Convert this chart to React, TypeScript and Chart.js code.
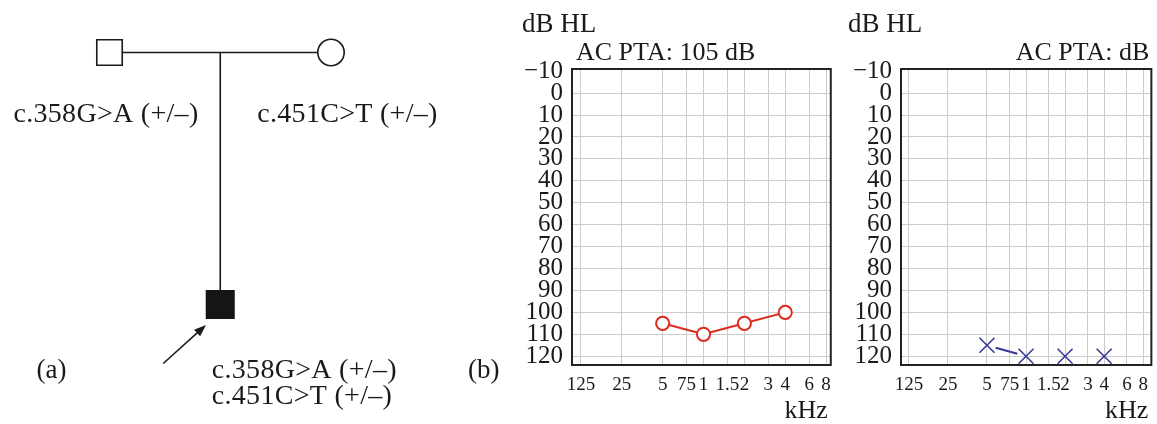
import React, { useEffect, useRef } from "react";
import { Chart, registerables } from "chart.js";

Chart.register(...registerables);

const SERIF = '"Liberation Serif", "Times New Roman", Times, serif';
const INK = "#1a1a1a";
const GRID = "#cccccc";
const RED = "#e0291e";
const BLUE = "#38389a";

// ---------------- Audiogram data ----------------
const frequenciesKHz = [0.125, 0.25, 0.5, 0.75, 1, 1.5, 2, 3, 4, 6, 8];
const frequencyTickLabels = ["125", "25", "5", "75", "1", "1.5", "2", "3", "4", "6", "8"];
const hearingLevelTicks = [-10, 0, 10, 20, 30, 40, 50, 60, 70, 80, 90, 100, 110, 120];

const rightEarFrequencies = [0.5, 1, 2, 4];
const rightEarThresholds = [105, 110, 105, 100];
const rightEarPTA = "105";

const leftEarFrequencies = [0.5, 1, 2, 4];
const leftEarThresholds = [115, 120, 120, 120];
const leftEarLinks = [[0, 1]];
const leftEarPTA = "";

// ---------------- Pedigree data ----------------
const memberIds = ["father", "mother", "proband"];
const memberPosition = [0, 1, 0.5];
const memberGeneration = [1, 1, 2];
const memberShape = ["rect", "circle", "rect"];
const memberAffected = [false, false, true];
const memberGenotype = [
  ["c.358G>A (+/\u2013)"],
  ["c.451C>T (+/\u2013)"],
  ["c.358G>A (+/\u2013)", "c.451C>T (+/\u2013)"],
];
const matingPair = [0, 1];
const offspring = [2];

// label placement (style)
const labelAlign: CanvasTextAlign[] = ["center", "center", "left"];
const labelDx = [-3.5, 16.5, -8.5];
const labelDy = [69.5, 69.5, 74];
const labelLineGap = 25.7;

function pedigreeDecor() {
  return {
    id: "pedigreeDecor",
    afterDatasetsDraw(chart: any) {
      const { ctx } = chart;
      const xs = chart.scales.x;
      const ys = chart.scales.y;
      ctx.save();
      ctx.fillStyle = INK;
      ctx.textBaseline = "alphabetic";
      ctx.font = `28px ${SERIF}`;
      (ctx as any).letterSpacing = "0.3px";
      memberIds.forEach((_, i) => {
        const px = xs.getPixelForValue(memberPosition[i]);
        const py = ys.getPixelForValue(memberGeneration[i]);
        ctx.textAlign = labelAlign[i];
        memberGenotype[i].forEach((t, k) => {
          ctx.fillText(t, px + labelDx[i], py + labelDy[i] + k * labelLineGap);
        });
      });
      (ctx as any).letterSpacing = "0px";

      // proband arrow
      const p = memberAffected.indexOf(true);
      if (p >= 0) {
        const px = xs.getPixelForValue(memberPosition[p]);
        const py = ys.getPixelForValue(memberGeneration[p]);
        const tx = px - 57, ty = py + 59;
        const hx = px - 14.25, hy = py + 20.5;
        const ang = Math.atan2(hy - ty, hx - tx);
        const len = 12, half = 4.5;
        const bx = hx - Math.cos(ang) * len, by = hy - Math.sin(ang) * len;
        ctx.strokeStyle = INK;
        ctx.lineWidth = 1.6;
        ctx.beginPath();
        ctx.moveTo(tx, ty);
        ctx.lineTo(bx + Math.cos(ang) * 2, by + Math.sin(ang) * 2);
        ctx.stroke();
        ctx.beginPath();
        ctx.moveTo(hx, hy);
        ctx.lineTo(bx - Math.sin(ang) * half, by + Math.cos(ang) * half);
        ctx.lineTo(bx + Math.sin(ang) * half, by - Math.cos(ang) * half);
        ctx.closePath();
        ctx.fill();
      }

      ctx.font = `27px ${SERIF}`;
      ctx.textAlign = "left";
      ctx.fillText("(a)", 36.5, 378.3);
      ctx.fillText("(b)", 468, 377.5);
      ctx.restore();
    },
  };
}

type AudioOpts = {
  freqs: number[];
  values: number[];
  kind: "circle" | "cross";
  links?: number[][];
  pta: string;
  ptaAlign: "left" | "right";
  xMin: number;
  xMax: number;
  yAxisWidth: number;
  padRight: number;
  hlOffset: number;
};

function audiogramDecor(o: AudioOpts) {
  return {
    id: "audiogramDecor",
    beforeDatasetsDraw(chart: any) {
      if (!o.links) return;
      const { ctx } = chart;
      const xs = chart.scales.x;
      const ys = chart.scales.y;
      ctx.save();
      ctx.strokeStyle = BLUE;
      ctx.lineWidth = 2;
      o.links.forEach(([a, b]) => {
        const x0 = xs.getPixelForValue(o.freqs[a]);
        const y0 = ys.getPixelForValue(o.values[a]);
        const x1 = xs.getPixelForValue(o.freqs[b]);
        const y1 = ys.getPixelForValue(o.values[b]);
        const d = Math.hypot(x1 - x0, y1 - y0);
        const ux = (x1 - x0) / d, uy = (y1 - y0) / d;
        const g = 9;
        ctx.beginPath();
        ctx.moveTo(x0 + ux * g, y0 + uy * g);
        ctx.lineTo(x1 - ux * g, y1 - uy * g);
        ctx.stroke();
      });
      ctx.restore();
    },
    afterDraw(chart: any) {
      const { ctx, chartArea: a } = chart;
      ctx.save();
      ctx.strokeStyle = "#222";
      ctx.lineWidth = 2;
      ctx.strokeRect(a.left, a.top, a.right - a.left, a.bottom - a.top);
      ctx.fillStyle = INK;
      ctx.textBaseline = "alphabetic";
      ctx.font = `27px ${SERIF}`;
      ctx.textAlign = "left";
      ctx.fillText("dB HL", a.left - o.hlOffset, 31.7);
      ctx.font = `26px ${SERIF}`;
      const pta = o.pta ? `AC PTA: ${o.pta} dB` : "AC PTA: dB";
      if (o.ptaAlign === "left") {
        ctx.textAlign = "left";
        ctx.fillText(pta, a.left + 4, 60);
      } else {
        ctx.textAlign = "right";
        ctx.fillText(pta, a.right - 2, 60);
      }
      ctx.textAlign = "right";
      ctx.font = `26px ${SERIF}`;
      ctx.fillText("kHz", a.right - 3, 418);
      ctx.restore();
    },
  };
}

function makeAudiogram(canvas: HTMLCanvasElement, o: AudioOpts) {
  const data = o.freqs.map((f, i) => ({ x: f, y: o.values[i] }));
  const dataset: any =
    o.kind === "circle"
      ? {
          data,
          showLine: true,
          borderColor: RED,
          borderWidth: 2,
          pointStyle: "circle",
          pointRadius: 6.6,
          pointBorderWidth: 2,
          pointBorderColor: RED,
          pointBackgroundColor: "#ffffff",
          clip: false,
        }
      : {
          data,
          showLine: false,
          borderColor: BLUE,
          pointStyle: "crossRot",
          pointRadius: 10.6,
          pointBorderWidth: 1.6,
          pointBorderColor: BLUE,
          clip: false,
        };
  return new Chart(canvas, {
    type: "scatter",
    data: { datasets: [dataset] },
    options: {
      responsive: false,
      animation: false,
      devicePixelRatio: 1,
      layout: { autoPadding: false, padding: { top: 69, right: o.padRight, left: 0, bottom: 0 } },
      plugins: { legend: { display: false }, tooltip: { enabled: false }, title: { display: false } },
      events: [],
      scales: {
        x: {
          type: "logarithmic",
          min: o.xMin,
          max: o.xMax,
          bounds: "data",
          afterBuildTicks: (s: any) => {
            s.ticks = frequenciesKHz.map((v) => ({ value: v }));
          },
          afterFit: (s: any) => {
            s.height = 59;
          },
          ticks: {
            autoSkip: false,
            maxRotation: 0,
            minRotation: 0,
            padding: 9,
            color: INK,
            font: { family: SERIF, size: 19 },
            callback: (_v: any, i: number) => frequencyTickLabels[i],
          },
          grid: { color: GRID, lineWidth: 1, drawTicks: false },
          border: { display: false },
        },
        y: {
          type: "linear",
          reverse: true,
          min: -11,
          max: 124,
          bounds: "data",
          afterBuildTicks: (s: any) => {
            s.ticks = hearingLevelTicks.map((v) => ({ value: v }));
          },
          afterFit: (s: any) => {
            s.width = o.yAxisWidth;
          },
          ticks: {
            autoSkip: false,
            padding: 9,
            color: INK,
            font: { family: SERIF, size: 25 },
            callback: (v: any) => (v < 0 ? "\u2212" + Math.abs(v) : String(v)),
          },
          grid: {
            color: (c: any) => (c.tick && c.tick.value === -10 ? "rgba(0,0,0,0)" : GRID),
            lineWidth: 1,
            drawTicks: false,
          },
          border: { display: false },
        },
      },
    } as any,
    plugins: [audiogramDecor(o)],
  });
}

function makePedigree(canvas: HTMLCanvasElement) {
  const parentMid =
    (memberPosition[matingPair[0]] + memberPosition[matingPair[1]]) / 2;
  const parentGen = memberGeneration[matingPair[0]];
  const lineStyle = {
    showLine: true,
    borderColor: INK,
    borderWidth: 1.6,
    pointRadius: 0,
    order: 2,
  };
  return new Chart(canvas, {
    type: "scatter",
    data: {
      datasets: [
        {
          ...lineStyle,
          data: matingPair.map((i) => ({ x: memberPosition[i], y: memberGeneration[i] })),
        },
        ...offspring.map((c) => ({
          ...lineStyle,
          data: [
            { x: parentMid, y: parentGen },
            { x: memberPosition[c], y: memberGeneration[c] },
          ],
        })),
        {
          data: memberIds.map((_, i) => ({ x: memberPosition[i], y: memberGeneration[i] })),
          showLine: false,
          order: 0,
          pointStyle: memberShape,
          pointRadius: memberShape.map((s, i) => (s === "circle" ? 13.2 : memberAffected[i] ? 19.4 : 18)),
          pointBackgroundColor: memberAffected.map((a) => (a ? "#151515" : "#ffffff")),
          pointBorderColor: memberAffected.map((a) => (a ? "#151515" : INK)),
          pointBorderWidth: 1.6,
        },
      ] as any,
    },
    options: {
      responsive: false,
      animation: false,
      devicePixelRatio: 1,
      events: [],
      layout: { autoPadding: false, padding: 0 },
      plugins: { legend: { display: false }, tooltip: { enabled: false } },
      scales: {
        x: { type: "linear", display: false, min: -0.49436, max: 1.85327 },
        y: { type: "linear", display: false, reverse: true, min: 0.79167, max: 2.47421 },
      },
    } as any,
    plugins: [pedigreeDecor()],
  });
}

export default function App() {
  const pedRef = useRef<HTMLCanvasElement>(null);
  const rRef = useRef<HTMLCanvasElement>(null);
  const lRef = useRef<HTMLCanvasElement>(null);

  useEffect(() => {
    const charts: Chart[] = [];
    if (pedRef.current) charts.push(makePedigree(pedRef.current));
    if (rRef.current)
      charts.push(
        makeAudiogram(rRef.current, {
          freqs: rightEarFrequencies,
          values: rightEarThresholds,
          kind: "circle",
          pta: rightEarPTA,
          ptaAlign: "left",
          xMin: 0.10744,
          xMax: 8.657,
          yAxisWidth: 72,
          padRight: 7,
          hlOffset: 50,
        })
      );
    if (lRef.current)
      charts.push(
        makeAudiogram(lRef.current, {
          freqs: leftEarFrequencies,
          values: leftEarThresholds,
          kind: "cross",
          links: leftEarLinks,
          pta: leftEarPTA,
          ptaAlign: "right",
          xMin: 0.10869,
          xMax: 9.25,
          yAxisWidth: 71,
          padRight: 2,
          hlOffset: 53,
        })
      );
    return () => charts.forEach((c) => c.destroy());
  }, []);

  return (
    <div
      style={{
        position: "absolute",
        left: 0,
        top: 0,
        width: 1157,
        height: 424,
        background: "#ffffff",
        overflow: "hidden",
      }}
    >
      <canvas ref={pedRef} width={520} height={424} style={{ position: "absolute", left: 0, top: 0, width: 520, height: 424 }} />
      <canvas ref={rRef} width={340} height={424} style={{ position: "absolute", left: 500, top: 0, width: 340, height: 424 }} />
      <canvas ref={lRef} width={327} height={424} style={{ position: "absolute", left: 830, top: 0, width: 327, height: 424 }} />
    </div>
  );
}
